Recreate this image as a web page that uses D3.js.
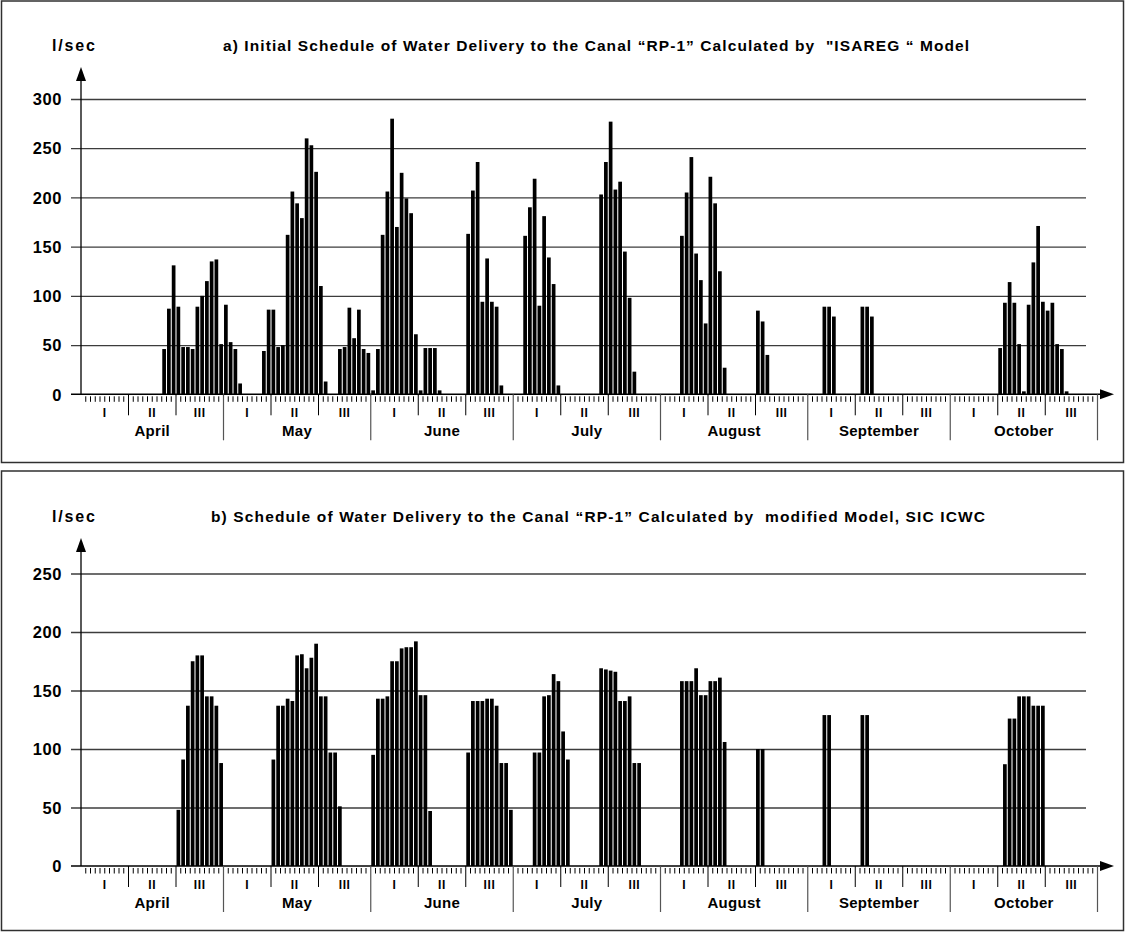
<!DOCTYPE html>
<html>
<head>
<meta charset="utf-8">
<script src="https://cdn.jsdelivr.net/npm/d3@7"></script>
<style>
  html, body { margin: 0; padding: 0; background: #fff; }
  svg { display: block; }
  text { font-family: "Liberation Sans", Arial, sans-serif; font-weight: bold; fill: #000; white-space: pre; }
</style>
</head>
<body>
<svg id="chart" width="1126" height="932"></svg>
<script>
// ---------------- DATA ----------------
const months = ["April", "May", "June", "July", "August", "September", "October"];
const monthDays = [30, 31, 30, 31, 31, 30, 31];
const decadeLabels = ["I", "II", "III"];

// Panel a) daily water delivery, l/sec (April 1 .. October 31)
const seriesA = [].concat(
  [0,0,0,0,0,0,0,0,0,0, 0,0,0,0,0,0,0,46,87,131, 89,48,48,46,89,100,115,135,137,51],          // April
  [91,53,46,11,0,0,0,0,44,86, 86,48,50,162,206,194,179,260,253,226, 110,13,0,0,46,48,88,57,86,46, 42], // May
  [4,46,162,206,280,170,225,199,184,61, 4,47,47,47,4,0,0,0,0,0, 163,207,236,94,138,94,89,9,0,0],   // June
  [0,0,161,190,219,90,181,139,112,9, 0,0,0,0,0,0,0,0,203,236, 277,208,216,145,98,23,0,0,0,0, 0],    // July
  [0,0,0,0,161,205,241,143,116,72, 221,194,125,27,0,0,0,0,0,0, 85,74,40,0,0,0,0,0,0,0, 0],          // August
  [0,0,0,89,89,79,0,0,0,0, 0,89,89,79,0,0,0,0,0,0, 0,0,0,0,0,0,0,0,0,0],                           // September
  [0,0,0,0,0,0,0,0,0,0, 47,93,114,93,51,3,91,134,171,94, 85,93,51,46,3,0,0,0,0,0, 0]                // October
);

// Panel b) daily water delivery, l/sec
const seriesB = [].concat(
  [0,0,0,0,0,0,0,0,0,0, 0,0,0,0,0,0,0,0,0,0, 48,91,137,175,180,180,145,145,137,88],                 // April
  [0,0,0,0,0,0,0,0,0,0, 91,137,137,143,141,180,181,169,178,190, 145,145,97,97,51,0,0,0,0,0, 0],     // May
  [95,143,143,145,175,175,186,187,187,192, 146,146,47,0,0,0,0,0,0,0, 97,141,141,141,143,143,137,88,88,48], // June
  [0,0,0,0,97,97,145,146,164,158, 115,91,0,0,0,0,0,0,169,168, 167,166,141,141,145,88,88,0,0,0, 0],  // July
  [0,0,0,0,158,158,158,169,146,146, 158,158,161,106,0,0,0,0,0,0, 100,100,0,0,0,0,0,0,0,0, 0],      // August
  [0,0,0,129,129,0,0,0,0,0, 0,129,129,0,0,0,0,0,0,0, 0,0,0,0,0,0,0,0,0,0],                         // September
  [0,0,0,0,0,0,0,0,0,0, 0,87,126,126,145,145,145,137,137,137, 0,0,0,0,0,0,0,0,0,0, 0]              // October
);

const yTicksA = [0, 50, 100, 150, 200, 250, 300];
const yTicksB = [0, 50, 100, 150, 200, 250];
const unitLabel = "l/sec";
const titleA = "a) Initial Schedule of Water Delivery to the Canal \u201CRP-1\u201D Calculated by  \"ISAREG \u201C Model";
const titleB = "b) Schedule of Water Delivery to the Canal \u201CRP-1\u201D Calculated by  modified Model, SIC ICWC";

// ---------------- LAYOUT ----------------
const svg = d3.select("#chart");
const nDays = d3.sum(monthDays);
const x0 = 81, x1 = 1097.5;
const xDay = d3.scaleLinear().domain([0, nDays]).range([x0, x1]);        // day boundaries
const xBand = d3.scaleBand().domain(d3.range(nDays)).range([x0, x1])
  .paddingInner(0.22).paddingOuter(0.11);

const monthStart = [];
monthDays.reduce((acc, d) => { monthStart.push(acc); return acc + d; }, 0);

function drawPanel(cfg) {
  const g = svg.append("g");
  const y = d3.scaleLinear().domain([0, cfg.yMax]).range([cfg.zeroY, cfg.topY]);

  // frame
  g.append("rect")
    .attr("x", 1.5).attr("y", cfg.boxTop)
    .attr("width", 1122).attr("height", cfg.boxH)
    .attr("fill", "none").attr("stroke", "#303030").attr("stroke-width", 1.5);

  // unit label and title
  g.append("text").attr("x", 52).attr("y", cfg.titleY)
    .attr("font-size", 16).attr("textLength", 43).attr("lengthAdjust", "spacing")
    .text(unitLabel);
  g.append("text").attr("x", cfg.titleX).attr("y", cfg.titleY)
    .attr("font-size", 15.5).attr("textLength", cfg.titleW).attr("lengthAdjust", "spacing")
    .text(cfg.title);

  // y axis with gridlines
  const yAxis = d3.axisLeft(y).tickValues(cfg.yTicks)
    .tickSize(-(1086 - 71)).tickPadding(9).tickFormat(d3.format("d"));
  const ga = g.append("g").attr("transform", "translate(71,0)").call(yAxis);
  ga.select(".domain").remove();
  ga.selectAll(".tick line")
    .attr("stroke", "#3c3c3c").attr("stroke-width", 1.3)
    .attr("display", d => d === 0 ? "none" : null);
  ga.selectAll(".tick text")
    .attr("font-size", 16.5).attr("font-family", "Liberation Sans, Arial, sans-serif")
    .attr("font-weight", "bold").attr("fill", "#000").attr("letter-spacing", 0.6)
    .attr("dy", "0.35em");

  // bars
  g.append("g").selectAll("rect")
    .data(cfg.values.map((v, i) => ({ v, i })).filter(d => d.v > 0))
    .join("rect")
    .attr("x", d => xBand(d.i))
    .attr("width", xBand.bandwidth())
    .attr("y", d => y(d.v))
    .attr("height", d => cfg.zeroY - y(d.v))
    .attr("fill", "#000");

  // y axis line + arrow
  g.append("line").attr("x1", x0).attr("x2", x0)
    .attr("y1", cfg.zeroY).attr("y2", cfg.arrowY + 10)
    .attr("stroke", "#000").attr("stroke-width", 1.3);
  g.append("path")
    .attr("d", `M${x0},${cfg.arrowY} L${x0 - 5},${cfg.arrowY + 14} L${x0 + 5},${cfg.arrowY + 14} Z`)
    .attr("fill", "#000");

  // x axis line + arrow
  g.append("line").attr("x1", 71).attr("x2", 1102)
    .attr("y1", cfg.zeroY).attr("y2", cfg.zeroY)
    .attr("stroke", "#000").attr("stroke-width", 1.5);
  g.append("path")
    .attr("d", `M1114,${cfg.zeroY} L1100,${cfg.zeroY - 5} L1100,${cfg.zeroY + 5} Z`)
    .attr("fill", "#000");

  // day ticks, decade separators, month separators
  const decadeB = [], monthB = [];
  monthStart.forEach((s, m) => {
    decadeB.push(s + 10, s + 20);
    monthB.push(s + monthDays[m]);
  });
  const special = new Set(decadeB.concat(monthB));
  const dayB = d3.range(1, nDays).filter(b => !special.has(b));
  g.append("g").selectAll("line").data(dayB).join("line")
    .attr("x1", d => xDay(d)).attr("x2", d => xDay(d))
    .attr("y1", cfg.zeroY + 2).attr("y2", cfg.zeroY + 7.5)
    .attr("stroke", "#000").attr("stroke-width", 1);
  g.append("g").selectAll("line").data(decadeB).join("line")
    .attr("x1", d => xDay(d)).attr("x2", d => xDay(d))
    .attr("y1", cfg.zeroY).attr("y2", cfg.zeroY + 21)
    .attr("stroke", "#000").attr("stroke-width", 1);
  g.append("g").selectAll("line").data(monthB).join("line")
    .attr("x1", d => xDay(d)).attr("x2", d => xDay(d))
    .attr("y1", cfg.zeroY).attr("y2", cfg.zeroY + 46)
    .attr("stroke", "#555").attr("stroke-width", 1.2);

  // decade labels
  const decades = [];
  monthStart.forEach((s, m) => {
    decades.push({ c: s + 5, t: decadeLabels[0] });
    decades.push({ c: s + 15, t: decadeLabels[1] });
    decades.push({ c: s + (20 + monthDays[m]) / 2, t: decadeLabels[2] });
  });
  g.append("g").selectAll("text").data(decades).join("text")
    .attr("x", d => xDay(d.c)).attr("y", cfg.zeroY + 22.5)
    .attr("text-anchor", "middle").attr("font-size", 12).attr("letter-spacing", 0.6)
    .text(d => d.t);

  // month labels
  g.append("g").selectAll("text").data(months).join("text")
    .attr("x", (d, m) => xDay(monthStart[m] + monthDays[m] / 2))
    .attr("y", cfg.zeroY + 41.5)
    .attr("text-anchor", "middle").attr("font-size", 15).attr("letter-spacing", 0.3)
    .text(d => d);
}

drawPanel({
  boxTop: 1, boxH: 461.5, title: titleA, titleX: 223, titleW: 746, titleY: 50.5,
  values: seriesA, yTicks: yTicksA, yMax: 300, zeroY: 394.3, topY: 99, arrowY: 67
});
drawPanel({
  boxTop: 471, boxH: 459.5, title: titleB, titleX: 211, titleW: 774, titleY: 521.5,
  values: seriesB, yTicks: yTicksB, yMax: 250, zeroY: 866, topY: 573.5, arrowY: 538
});
</script>
</body>
</html>
